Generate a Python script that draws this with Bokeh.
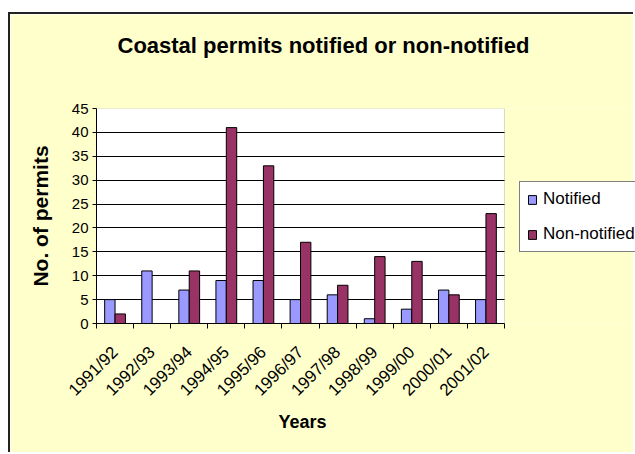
import numpy as np
from math import pi
from bokeh.plotting import figure
from bokeh.models import (ColumnDataSource, FixedTicker, Legend, LegendItem, Title,
                          BoxAnnotation, Range1d, Grid)
from bokeh.transform import dodge
from bokeh.embed import file_html
from bokeh.resources import INLINE

years = ["1991/92", "1992/93", "1993/94", "1994/95", "1995/96", "1996/97",
         "1997/98", "1998/99", "1999/00", "2000/01", "2001/02"]
notified = [5, 11, 7, 9, 9, 5, 6, 1, 3, 7, 5]
non_notified = [2, 0, 11, 41, 33, 17, 8, 14, 13, 6, 23]
y_ticks = [0, 5, 10, 15, 20, 25, 30, 35, 40, 45]

n = len(years)
centers = [i + 0.5 for i in range(n)]
bounds = [float(i) for i in range(n + 1)]
y_max = y_ticks[-1]

src = ColumnDataSource(dict(x=centers, notified=notified, non=non_notified))

FONT = "Liberation Sans"

# layout (pixels)
W, H = 625, 440
LEFT, TOP, BOTTOM = 86, 94, 131
PLOT_W = 408                     # width of the white plotting area
FRAME_W = W - LEFT               # frame runs to the right edge (room for legend)

p = figure(width=W, height=H,
           x_range=Range1d(0, n * FRAME_W / PLOT_W), y_range=Range1d(0, y_max),
           output_backend="svg", toolbar_location=None, tools="",
           min_border_left=LEFT, min_border_top=TOP, min_border_right=0,
           min_border_bottom=BOTTOM)
p.styles = {"border-left": "2px solid #222", "border-top": "2px solid #222",
            "margin-top": "12px", "margin-left": "8px"}
p.border_fill_color = "#FFFFCC"
p.background_fill_color = "#FFFFCC"
p.outline_line_color = None

# white plotting area
area = BoxAnnotation(left=0, right=n, bottom=0, top=y_max, fill_color="white",
                     fill_alpha=1, line_color="#808080", line_width=1, level="image")
p.add_layout(area)

r1 = p.vbar(x=dodge("x", -0.14, range=p.x_range), top="notified", width=0.28,
            source=src, fill_color="#9999FF", line_color="black", line_width=1)
r2 = p.vbar(x=dodge("x", 0.14, range=p.x_range), top="non", width=0.28,
            source=src, fill_color="#993366", line_color="black", line_width=1)

# x axis
xa = p.xaxis[0]
xa.bounds = (0, n)
xa.ticker = FixedTicker(ticks=centers, minor_ticks=bounds)
xa.major_label_overrides = {c: lab for c, lab in zip(centers, years)}
xa.major_tick_line_color = None
xa.minor_tick_in = 0
xa.minor_tick_out = 5
xa.minor_tick_line_color = "black"
xa.axis_line_color = "black"
xa.major_label_orientation = pi / 4
xa.major_label_text_font = FONT
xa.major_label_text_font_size = "17px"
xa.major_label_text_color = "black"
xa.major_label_standoff = 20

# x axis title, placed under the white plotting area
xtitle = Title(text="Years", align="left", text_font=FONT, text_font_size="18px",
               text_font_style="bold", text_color="black", standoff=0, offset=182)
p.add_layout(xtitle, "below")

# y axis
ya = p.yaxis[0]
ya.ticker = FixedTicker(ticks=y_ticks)
ya.major_tick_in = 0
ya.major_tick_out = 4
ya.minor_tick_line_color = None
ya.axis_line_color = "black"
ya.major_label_text_font = FONT
ya.major_label_text_font_size = "15px"
ya.major_label_text_color = "black"
ya.major_label_standoff = 4
ya.axis_label = "No. of permits"
ya.axis_label_text_font = FONT
ya.axis_label_text_font_size = "21px"
ya.axis_label_text_font_style = "bold"
ya.axis_label_text_color = "black"
ya.axis_label_standoff = 17

p.xgrid.grid_line_color = None
yg = p.ygrid[0]
if "cross_bounds" in Grid.properties():
    yg.ticker = FixedTicker(ticks=y_ticks[1:-1])
    yg.grid_line_color = "black"
    yg.grid_line_width = 1
    yg.cross_bounds = (0, n)
else:
    yg.grid_line_color = None
    gy = y_ticks[1:-1]
    p.segment(x0=[0] * len(gy), x1=[n] * len(gy), y0=gy, y1=gy,
              line_color="black", line_width=1, level="underlay")

title = Title(text="Coastal permits notified or non-notified", align="left",
              text_font=FONT, text_font_size="22px", text_font_style="bold",
              text_color="black", standoff=0, offset=21)
if "padding" in Title.properties():
    title.padding = dict(left=0, right=0, top=0, bottom=51)
else:
    title.standoff = 50
p.add_layout(title, "above")

legend = Legend(items=[LegendItem(label="Notified", renderers=[r1]),
                       LegendItem(label="Non-notified", renderers=[r2])],
                location=(423, 71))
legend.border_line_color = "black"
legend.border_line_width = 1
legend.background_fill_color = "white"
legend.background_fill_alpha = 1
legend.label_text_font = FONT
legend.label_text_font_size = "17px"
legend.label_text_color = "black"
legend.glyph_width = 10
legend.glyph_height = 11
legend.label_height = 20
legend.spacing = 15
legend.padding = 7
legend.margin = 0
legend.label_standoff = 6
p.add_layout(legend, "center")

open("out.html", "w").write(file_html(p, INLINE))
